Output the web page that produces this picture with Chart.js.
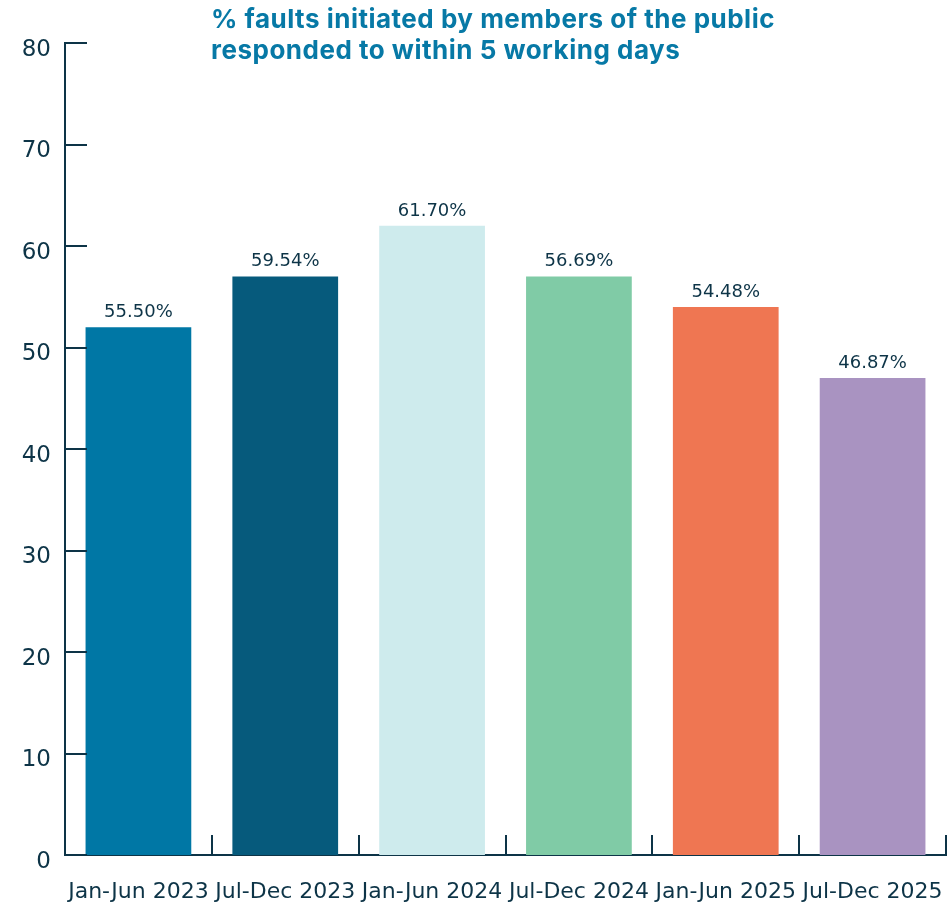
<!DOCTYPE html>
<html>
<head>
<meta charset="utf-8">
<script src="https://cdn.jsdelivr.net/npm/chart.js@4.4.1/dist/chart.umd.min.js"></script>
<style>
  html, body { margin: 0; padding: 0; background: #fff; }
  #wrap { width: 949px; height: 904px; position: relative; }
</style>
</head>
<body>
<div id="wrap"><canvas id="grafico"></canvas></div>
<script>
const periods = ['Jan-Jun 2023', 'Jul-Dec 2023', 'Jan-Jun 2024', 'Jul-Dec 2024', 'Jan-Jun 2025', 'Jul-Dec 2025'];
// bar heights as drawn in the picture (they don't match the printed labels exactly)
const barValues = [52, 57, 62, 57, 54, 47];
const barLabels = ['55.50%', '59.54%', '61.70%', '56.69%', '54.48%', '46.87%'];
const barColors = ['#0077a5', '#065a7c', '#ceebed', '#80cba6', '#ef7652', '#a993c1'];
const titleLines = ['% faults initiated by members of the public', 'responded to within 5 working days'];

const ink = '#0d3447';

// title + value labels + inward tick marks
const extras = {
    id: 'extras',
    afterDatasetsDraw(chart) {
        const ctx = chart.ctx;
        const meta = chart.getDatasetMeta(0);
        ctx.save();
        ctx.fillStyle = ink;
        ctx.font = '18px "DejaVu Sans"';
        ctx.textAlign = 'center';
        ctx.textBaseline = 'alphabetic';
        meta.data.forEach((bar, i) => {
            ctx.fillText(barLabels[i], bar.x, bar.y - 10);
        });

        // y ticks pointing into the chart
        const y = chart.scales.y, x = chart.scales.x;
        ctx.strokeStyle = ink;
        ctx.lineWidth = 2;
        y.ticks.forEach(t => {
            const py = Math.round(y.getPixelForValue(t.value));
            ctx.beginPath();
            ctx.moveTo(y.right, py);
            ctx.lineTo(y.right + 22, py);
            ctx.stroke();
        });
        // x ticks between categories, pointing up
        const step = x.getPixelForValue(1) - x.getPixelForValue(0);
        for (let i = 0; i < periods.length; i++) {
            const px = Math.round(x.getPixelForValue(i) + step / 2);
            ctx.beginPath();
            ctx.moveTo(px, x.top);
            ctx.lineTo(px, x.top - 20);
            ctx.stroke();
        }

        ctx.fillStyle = '#0779a6';
        ctx.font = 'bold 26px Inter';
        ctx.letterSpacing = '0.5px';
        ctx.textAlign = 'left';
        ctx.fillText(titleLines[0], 211, 28);
        ctx.fillText(titleLines[1], 211, 59);
        ctx.restore();
    }
};

new Chart('grafico', {
    type: 'bar',
    data: {
        labels: periods,
        datasets: [{
            data: barValues,
            backgroundColor: barColors,
            borderWidth: 0,
            barPercentage: 0.72,
            categoryPercentage: 1
        }]
    },
    options: {
        responsive: true,
        maintainAspectRatio: false,
        animation: false,
        layout: { padding: { top: 43, right: 3, left: 0, bottom: 0 } },
        plugins: {
            legend: { display: false },
            tooltip: { enabled: false }
        },
        scales: {
            x: {
                grid: { display: false, drawTicks: false },
                border: { display: true, color: ink, width: 2 },
                ticks: { color: ink, font: { family: 'DejaVu Sans', size: 22 }, padding: 24, maxRotation: 0 },
                afterFit: s => { s.height = 49; s.paddingLeft = 0; s.paddingRight = 0; }
            },
            y: {
                min: 0,
                max: 80,
                grid: { display: false, drawTicks: false },
                border: { display: true, color: ink, width: 2 },
                ticks: { stepSize: 10, color: ink, font: { family: 'DejaVu Sans', size: 23 }, padding: 14, labelOffset: 7 },
                afterFit: s => { s.width = 65; s.paddingTop = 0; s.paddingBottom = 0; }
            }
        }
    },
    plugins: [extras]
});
</script>
</body>
</html>
